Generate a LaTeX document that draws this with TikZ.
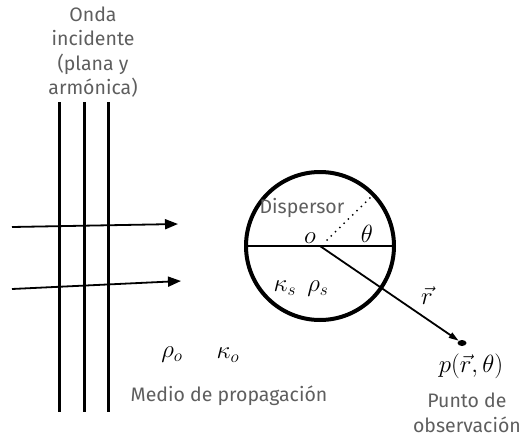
\documentclass[tikz,border=0pt]{standalone}
\usepackage{fontspec}
\setmainfont{Fira Sans}
\usetikzlibrary{arrows.meta}
\usetikzlibrary{calc}
\usetikzlibrary{shapes.geometric}
\definecolor{textgray}{HTML}{5E5E5E}
\tikzset{
    every node/.append style={inner sep=0pt},
    label/.style={text=textgray, font=\fontsize{19.5}{24.5}\selectfont, align=center},
    symbol/.style={font=\fontsize{27}{27}\selectfont},
    wave/.style={line width=3pt},
    ray/.style={-{Triangle[length=13pt,width=10pt]}, line width=1.8pt},
    x=1pt, y=-1pt
}
\begin{document}
\begin{tikzpicture}
\useasboundingbox (0,0) rectangle (522,442);
% incident wave
\node[label] (onda) at (93,52) {Onda\\incidente\\(plana y\\armónica)};
\draw[wave] (59,102) -- (59,412);
\draw[wave] (84,102) -- (84,412);
\draw[wave] (108,102) -- (108,412);
\coordinate (a1) at (12,227);
\coordinate (b1) at (178,224);
\coordinate (a2) at (12,289);
\coordinate (b2) at (181,281);
\draw[ray] (a1) -- (b1);
\draw[ray] (a2) -- (b2);

% scatterer
\coordinate (O) at (320,246);
\draw[line width=4pt] (O) circle (74);
\draw[line width=1.8pt] ($(O)+(-74,0)$) -- ($(O)+(74,0)$);
\draw[line width=2pt, line cap=round, dash pattern=on 0pt off 6pt] (327,240) -- (372,196);
\node[label] (disp) at (302,208) {Dispersor};
\node[font=\fontsize{24}{24}\selectfont] (orig) at (310,238) {$o$};
\node[font=\fontsize{26}{26}\selectfont] (theta) at (367,234) {$\theta$};
\node[symbol] (ks) at (301,289) {$\kappa_s\;\,\rho_s$};

% observation point
\node[fill, ellipse, minimum width=9pt, minimum height=6pt, inner sep=0pt] (P) at (462,343) {};
\draw[line width=1.8pt, -{Triangle[length=10pt,width=6pt]}] (O) -- (P);
\node[font=\fontsize{24}{24}\selectfont] (r) at (427,296) {$\vec{r}$};
\node[font=\fontsize{24}{24}\selectfont] (p) at (471,366) {$p(\vec{r},\theta)$};
\node[label, anchor=east] (punto) at (521,413) {Punto de\\observación};

% medium
\node[symbol] (rho) at (172,355) {$\rho_o$};
\node[symbol] (kappa) at (228,355) {$\kappa_o$};
\node[label] (medio) at (229,396) {Medio de propagación};
\end{tikzpicture}
\end{document}
